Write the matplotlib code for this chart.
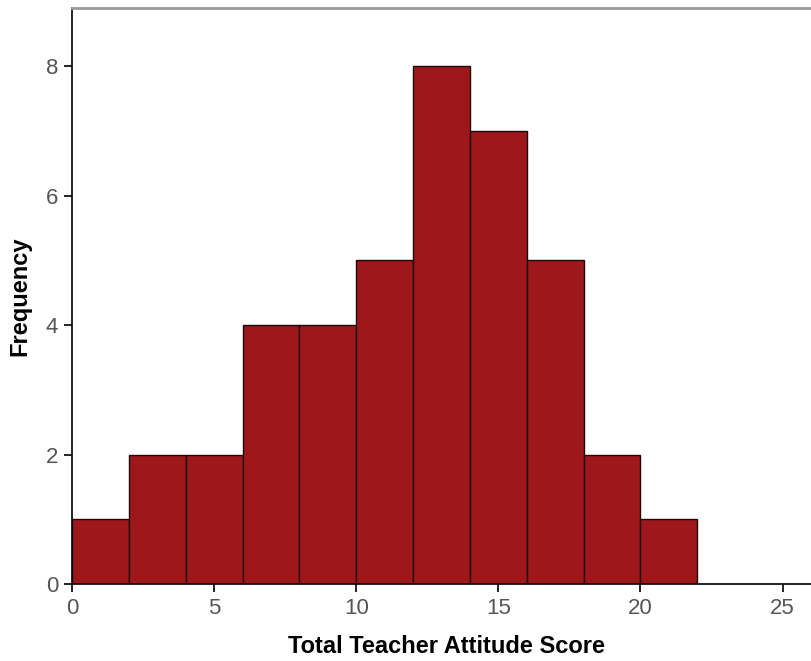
import matplotlib.pyplot as plt
import numpy as np

bin_edges = [0, 2, 4, 6, 8, 10, 12, 14, 16, 18, 20, 22]
counts = [1, 2, 2, 4, 4, 5, 8, 7, 5, 2, 1]

plt.rcParams['font.family'] = ['Liberation Sans', 'DejaVu Sans']

fig = plt.figure(figsize=(8.11, 6.61), dpi=100)
ax = fig.add_axes([72 / 811, 77 / 661, 739 / 811, 576 / 661])

ax.bar(bin_edges[:-1], counts, width=np.diff(bin_edges), align='edge',
       color='#9e171b', edgecolor='#1a0a0a', linewidth=1.0)

ax.set_xlim(0, 26)
ax.set_ylim(0, 8.9)
ax.set_xticks([0, 5, 10, 15, 20, 25])
ax.set_yticks([0, 2, 4, 6, 8])

ax.spines['right'].set_visible(False)
ax.spines['top'].set_color('#999999')
ax.spines['top'].set_linewidth(2)
ax.spines['left'].set_linewidth(1.2)
ax.spines['bottom'].set_linewidth(1.2)
ax.tick_params(direction='out', length=6, width=1.2, labelsize=16,
               labelcolor='#555555', pad=4)

ax.set_xlabel('Total Teacher Attitude Score', fontsize=17, fontweight='bold')
ax.xaxis.set_label_coords(0.507, -0.088)
ax.set_ylabel('Frequency', fontsize=17, fontweight='bold', labelpad=10)

fig.savefig('out.png', dpi=100)
